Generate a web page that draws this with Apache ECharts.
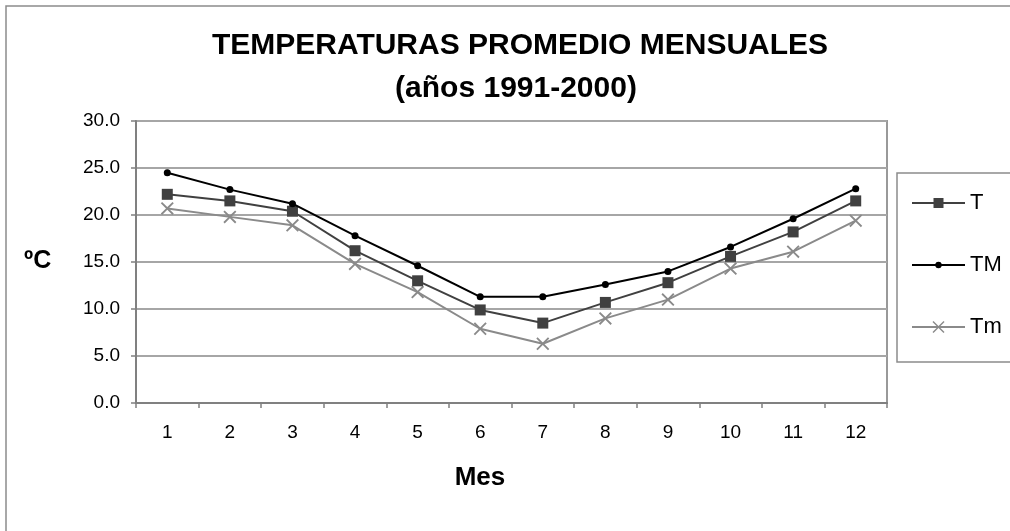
<!DOCTYPE html>
<html>
<head>
<meta charset="utf-8">
<script src="https://cdn.jsdelivr.net/npm/echarts@6/dist/echarts.min.js"></script>
<style>
html,body{margin:0;padding:0;background:#fff;}
#chart{width:1010px;height:531px;}
</style>
</head>
<body>
<div id="chart"></div>
<script>
const months = ['1','2','3','4','5','6','7','8','9','10','11','12'];
const T  = [22.2, 21.5, 20.4, 16.2, 13.0, 9.9, 8.5, 10.7, 12.8, 15.6, 18.2, 21.5];
const TM = [24.5, 22.7, 21.2, 17.8, 14.6, 11.3, 11.3, 12.6, 14.0, 16.6, 19.6, 22.8];
const Tm = [20.7, 19.8, 18.9, 14.8, 11.8, 7.9, 6.3, 9.0, 11.0, 14.3, 16.1, 19.4];
const titleLine1 = 'TEMPERATURAS PROMEDIO MENSUALES';
const titleLine2 = '(años 1991-2000)';
const yName = 'ºC';
const xName = 'Mes';

const FONT = '"Liberation Sans", Arial, sans-serif';
const crossPath = 'path://M0,1 L1,0 L5,4 L9,0 L10,1 L6,5 L10,9 L9,10 L5,6 L1,10 L0,9 L4,5 Z';

// legend icons (line + marker) in a 53x14 box; tiny corner dots fix the bounding box
const corners = 'M0,0 L0.01,0 L0.01,0.01 Z M52.99,13.99 L53,13.99 L53,14 Z ';
const iconT  = 'path://' + corners + 'M0,6 L21.5,6 L21.5,8 L0,8 Z M31.5,6 L53,6 L53,8 L31.5,8 Z M21.5,2 L31.5,2 L31.5,12 L21.5,12 Z';
const iconTM = 'path://' + corners + 'M0,6 L23.5,6 L23.5,8 L0,8 Z M29.5,6 L53,6 L53,8 L29.5,8 Z M23.3,7 A3.2,3.2 0 1,1 29.7,7 A3.2,3.2 0 1,1 23.3,7 Z';
const iconTm = 'path://' + corners + 'M0,6.1 L53,6.1 L53,7.9 L0,7.9 Z M20.5,2 L21.5,1 L26.5,6 L31.5,1 L32.5,2 L27.5,7 L32.5,12 L31.5,13 L26.5,8 L21.5,13 L20.5,12 L25.5,7 Z';

const chart = echarts.init(document.getElementById('chart'), null, {renderer: 'canvas'});
chart.setOption({
  backgroundColor: '#fff',
  animation: false,
  textStyle: {fontFamily: FONT},
  title: [
    {text: titleLine1, left: 515, top: 26, textAlign: 'center',
     textStyle: {fontFamily: FONT, fontSize: 30, fontWeight: 'bold', color: '#000'}},
    {text: titleLine2, left: 511, top: 69, textAlign: 'center',
     textStyle: {fontFamily: FONT, fontSize: 30, fontWeight: 'bold', color: '#000'}}
  ],
  grid: {left: 136, top: 121, right: 123, bottom: 128, show: true,
         borderColor: '#999', borderWidth: 2, backgroundColor: 'transparent'},
  legend: {
    orient: 'vertical', left: 912, top: 192, padding: 0,
    itemWidth: 53, itemHeight: 14, itemGap: 40, symbolKeepAspect: true,
    textStyle: {fontFamily: FONT, fontSize: 22, color: '#000', lineHeight: 22},
    data: [
      {name: 'T', icon: iconT},
      {name: 'TM', icon: iconTM},
      {name: 'Tm', icon: iconTm}
    ]
  },
  xAxis: {
    type: 'category', data: months, boundaryGap: true,
    axisLine: {lineStyle: {color: '#808080', width: 2}},
    axisTick: {show: true, interval: 0, length: 5, lineStyle: {color: '#808080', width: 1.5}},
    axisLabel: {interval: 0, fontFamily: FONT, fontSize: 19, color: '#000', margin: 20},
    splitLine: {show: false}
  },
  yAxis: {
    type: 'value', min: 0, max: 30, interval: 5,
    axisLine: {show: true, lineStyle: {color: '#808080', width: 2}},
    axisTick: {show: true, length: 5, lineStyle: {color: '#808080', width: 1.5}},
    axisLabel: {fontFamily: FONT, fontSize: 19, color: '#000', margin: 16,
                formatter: v => v.toFixed(1)},
    splitLine: {show: true, lineStyle: {color: '#a6a6a6', width: 2}}
  },
  graphic: [
    {type: 'rect', shape: {x: 6, y: 6, width: 1030, height: 560},
     style: {fill: 'none', stroke: '#8c8c8c', lineWidth: 1.5}, silent: true, z: -1},
    {type: 'rect', shape: {x: 897, y: 173, width: 140, height: 189},
     style: {fill: 'none', stroke: '#8c8c8c', lineWidth: 1.5}, silent: true},
    {type: 'text', left: 24, top: 249,
     style: {text: yName, fontFamily: FONT, fontSize: 25, fontWeight: 'bold', fill: '#000'}},
    {type: 'text', x: 480, y: 478,
     style: {text: xName, fontFamily: FONT, fontSize: 26, fontWeight: 'bold', fill: '#000',
             align: 'center', verticalAlign: 'middle'}}
  ],
  series: [
    {name: 'T', type: 'line', data: T, symbol: 'rect', symbolSize: 11,
     lineStyle: {color: '#404040', width: 2}, itemStyle: {color: '#404040'}, z: 3},
    {name: 'TM', type: 'line', data: TM, symbol: 'circle', symbolSize: 7,
     lineStyle: {color: '#000', width: 2}, itemStyle: {color: '#000'}, z: 4},
    {name: 'Tm', type: 'line', data: Tm, symbol: crossPath, symbolSize: 13,
     lineStyle: {color: '#8a8a8a', width: 2}, itemStyle: {color: '#8a8a8a'}, z: 2}
  ]
});
</script>
</body>
</html>
